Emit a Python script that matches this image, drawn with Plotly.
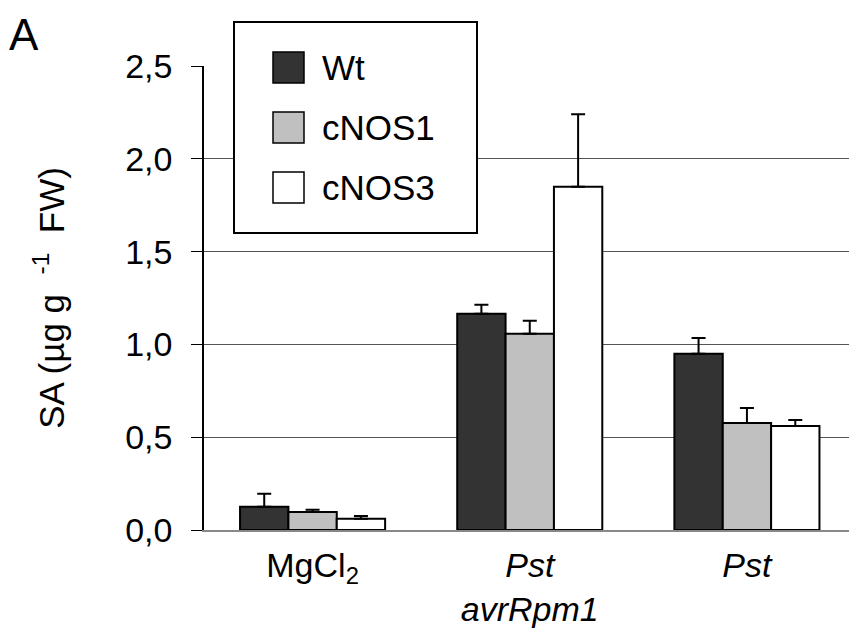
import plotly.graph_objects as go

# ---- data ----
categories = ["MgCl<sub>2</sub>", "<i>Pst</i><br><i>avrRpm1</i>", "<i>Pst</i>"]
series_names = ["Wt", "cNOS1", "cNOS3"]
wt_vals = [0.125, 1.165, 0.950]
wt_err = [0.070, 0.048, 0.085]
cnos1_vals = [0.097, 1.057, 0.577]
cnos1_err = [0.012, 0.070, 0.080]
cnos3_vals = [0.060, 1.850, 0.560]
cnos3_err = [0.016, 0.390, 0.033]
y_ticks = [0.0, 0.5, 1.0, 1.5, 2.0, 2.5]

colors = ["#333333", "#c0c0c0", "#ffffff"]
FONT = "Arial, Liberation Sans, sans-serif"

W, H = 849, 637
L, R, T, B = 204, 0, 66, 107
PW, PH = W - L - R, H - T - B

fig = go.Figure()
for name, vals, errs, col in zip(series_names,
                                 [wt_vals, cnos1_vals, cnos3_vals],
                                 [wt_err, cnos1_err, cnos3_err], colors):
    fig.add_trace(go.Bar(
        x=categories, y=vals, name=name,
        marker=dict(color=col, line=dict(color="black", width=2)),
        error_y=dict(type="data", array=errs, arrayminus=[0] * len(errs),
                     symmetric=False, color="black", thickness=2, width=7),
        showlegend=False,
    ))

def px_x(p):
    return (p - L) / PW

def px_y(p):
    return (H - B - p) / PH

shapes = []
annotations = []
# legend box
shapes.append(dict(type="rect", xref="paper", yref="paper",
                   x0=px_x(234), x1=px_x(477), y0=px_y(233), y1=px_y(22),
                   line=dict(color="black", width=2), fillcolor="white",
                   layer="above"))
sw_tops = [52, 112, 172]
for name, col, top in zip(series_names, colors, sw_tops):
    shapes.append(dict(type="rect", xref="paper", yref="paper",
                       x0=px_x(273), x1=px_x(304), y0=px_y(top + 31), y1=px_y(top),
                       line=dict(color="black", width=1.5), fillcolor=col,
                       layer="above"))
    annotations.append(dict(text=name, xref="paper", yref="paper",
                            x=px_x(320), y=px_y(top + 15.5), xanchor="left",
                            yanchor="middle", showarrow=False,
                            font=dict(family=FONT, size=35, color="black")))

# panel label
annotations.append(dict(text="A", xref="paper", yref="paper",
                        x=px_x(7), y=px_y(34), xanchor="left", yanchor="middle",
                        showarrow=False,
                        font=dict(family=FONT, size=44, color="black")))

fig.update_layout(
    width=W, height=H,
    margin=dict(l=L, r=R, t=T, b=B, pad=0),
    plot_bgcolor="white", paper_bgcolor="white",
    barmode="group", bargap=0.332, bargroupgap=0,
    separators=", ",
    font=dict(family=FONT, size=34, color="black"),
    shapes=shapes, annotations=annotations,
    xaxis=dict(type="category", range=[-0.5, 2.47], showgrid=False,
               showline=True, linecolor="#888888", linewidth=2,
               ticks="", tickfont=dict(size=34), ticklabelstandoff=4,
               fixedrange=True),
    yaxis=dict(range=[0, 2.5], tickvals=y_ticks, tickformat=".1f",
               showline=True, linecolor="black", linewidth=1.5,
               ticks="outside", ticklen=11, tickwidth=1.2, tickcolor="black",
               showgrid=True, gridcolor="#555555", gridwidth=1.2,
               zeroline=False, tickfont=dict(size=34),
               ticklabelstandoff=12,
               title=dict(text="SA (µg g  <sup>-1</sup>  FW)",
                          font=dict(size=35), standoff=50),
               automargin=False),
)

fig.write_html("out.html")
